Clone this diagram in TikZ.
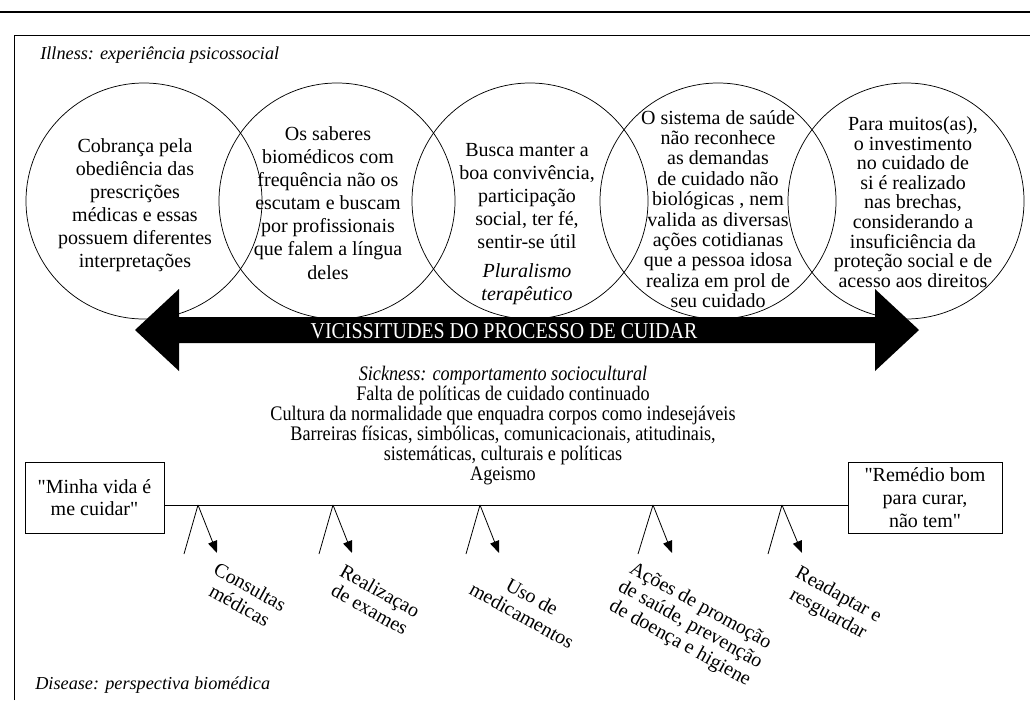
\documentclass[tikz,border=0pt]{standalone}
\usepackage{fontspec}
\setmainfont{Liberation Serif}
\newfontfamily\plainserif{Liberation Serif}
\newfontfamily\condserif[FakeStretch=0.88]{Liberation Serif}
\newcommand\straightq{{\plainserif"}}
\usetikzlibrary{arrows.meta}
\tikzset{
  ring/.style={draw, circle, line width=0.55pt, minimum size=177pt, inner sep=0pt},
  ctext/.style={align=center, inner sep=0pt, font=\fontsize{15}{17.3}\selectfont},
  ctextb/.style={align=center, inner sep=0pt, font=\fontsize{15}{14.7}\selectfont},
  ctextc/.style={align=center, inner sep=0pt, font=\fontsize{15}{15.3}\selectfont},
  quotebox/.style={draw, line width=0.7pt, align=center, inner sep=0pt, font=\fontsize{15}{17}\selectfont, minimum height=53.25pt},
  legline/.style={line width=0.6pt},
  legarrow/.style={line width=0.6pt, -{Triangle[length=9pt,width=7pt]}},
  slant/.style={rotate=-29, align=center, inner sep=0pt, font=\fontsize{15}{16}\selectfont},
  caption/.style={anchor=west, inner sep=0pt, font=\fontsize{13.7}{16}\selectfont\itshape},
  bandtext/.style={text=white, inner sep=0pt, font=\condserif\fontsize{17}{18}\selectfont},
  sicktext/.style={align=center, inner sep=0pt, font=\condserif\fontsize{15.5}{15}\selectfont},
}
\begin{document}
\begin{tikzpicture}[x=0.75pt,y=-0.75pt]
\useasboundingbox (0,0) rectangle (1030,700);
% frame
\draw[line width=0.8pt] (0,12) -- (1030,12);
\draw[line width=0.7pt] (14,700) -- (14,35) -- (1030,35);
\node[caption] (illness) at (40,55) {Illness: experiência psicossocial};
\node[caption] (disease) at (35,685) {Disease: perspectiva biomédica};
% circles
\node[ring] (c1) at (144,201) {};
\node[ring] (c2) at (337,201) {};
\node[ring] (c3) at (530,201) {};
\node[ring] (c4) at (718,201) {};
\node[ring] (c5) at (906,201) {};
\node[ctext] (t1) at (135,205) {Cobrança pela\\obediência das\\prescrições\\médicas e essas\\possuem diferentes\\interpretações};
\node[ctext] (t2) at (328,203) {Os saberes\\biomédicos com\\frequência não os\\escutam e buscam\\por profissionais\\que falem a língua\\deles};
\node[ctext] (t3) at (527,224) {Busca manter a\\boa convivência,\\participação\\social, ter fé,\\sentir-se útil\\[4pt]\textit{Pluralismo}\\\textit{terapêutico}};
\node[ctextc] (t4) at (718,209) {O sistema de saúde\\não reconhece\\as demandas\\de cuidado não\\biológicas , nem\\valida as diversas\\ações cotidianas\\que a pessoa idosa\\realiza em prol de\\seu cuidado};
\node[ctextb] (t5) at (913,202) {Para muitos(as),\\o investimento\\no cuidado de\\si é realizado\\nas brechas,\\considerando a\\insuficiência da\\proteção social e de\\acesso aos direitos};
% double arrow
\fill (135,330) -- (179,289) -- (179,317) -- (875,317) -- (875,289) -- (919,330)
  -- (875,371) -- (875,343) -- (179,343) -- (179,371) -- cycle;
\node[bandtext] (band) at (504,331) {VICISSITUDES DO PROCESSO DE CUIDAR};
% sickness
\node[sicktext] (sick) at (503,426) {\textit{Sickness: comportamento sociocultural}\\
Falta de políticas de cuidado continuado\\
Cultura da normalidade que enquadra corpos como indesejáveis\\
Barreiras físicas, simbólicas, comunicacionais, atitudinais,\\
sistemáticas, culturais e políticas\\
Ageismo};
% timeline
\node[quotebox, minimum width=104.25pt] (mbox) at (94.5,497.5) {\straightq Minha vida é\\me cuidar\straightq};
\node[quotebox, minimum width=115.5pt] (rbox) at (925,497.5) {\straightq Remédio bom\\para curar,\\não tem\straightq};
\coordinate (a1) at (198,505); \coordinate (f1) at (184,554); \coordinate (e1) at (217,553);
\coordinate (a2) at (333,505); \coordinate (f2) at (319,554); \coordinate (e2) at (352,553);
\coordinate (a3) at (480,505); \coordinate (f3) at (466,554); \coordinate (e3) at (499,553);
\coordinate (a4) at (653,505); \coordinate (f4) at (638,554); \coordinate (e4) at (672,553);
\coordinate (a5) at (782,505); \coordinate (f5) at (768,554); \coordinate (e5) at (802,553);
\draw[legline] (mbox.east |- a1) -- (rbox.west |- a1);
\foreach \i in {1,...,5}{
  \draw[legline] (a\i) -- (f\i);
  \draw[legarrow] (a\i) -- (e\i);
}
\node[slant] (l1) at (245,596) {Consultas\\médicas};
\node[slant] (l2) at (375,600) {Realizaçao\\de exames};
\node[slant] (l3) at (527,606) {Uso de\\medicamentos};
\node[slant] (l4) at (690,625) {Ações de promoção\\de saúde, prevenção\\de doença e higiene};
\node[slant] (l5) at (833,605) {Readaptar e\\resguardar};
\end{tikzpicture}
\end{document}
